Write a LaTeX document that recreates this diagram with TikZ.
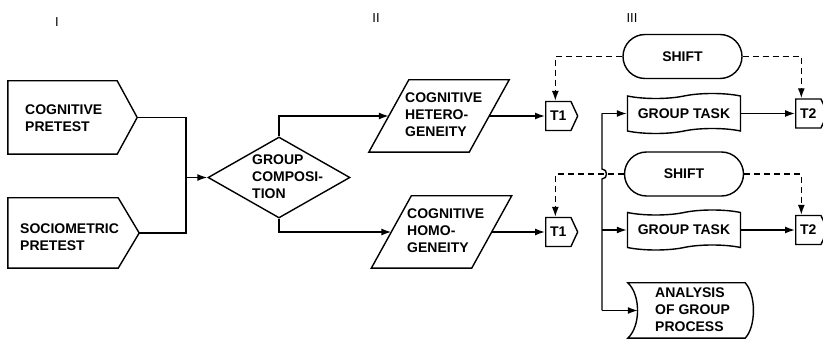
\documentclass[tikz,border=0pt]{standalone}
\usepackage{fontspec}
\setmainfont{Liberation Sans}
\usetikzlibrary{shapes.geometric,shapes.symbols,shapes.misc,arrows.meta,calc}
\begin{document}
\begin{tikzpicture}[x=1pt,y=-1pt,
  fnt/.style={font=\fontsize{14}{17}\selectfont\bfseries},
  txt/.style={fnt, align=left, inner sep=0pt},
  ln/.style={line width=1.4pt},
  arr/.style={ln,-{Latex[length=10pt,width=7pt]}},
  dsh/.style={arr,dash pattern=on 6pt off 4pt},
  box/.style={draw, ln, inner sep=0pt},
  body/.style={inner sep=0pt},
  tag/.style={box, fnt, signal, signal to=east, signal pointer angle=130, minimum width=32, minimum height=29},
  shiftbox/.style={box, fnt, rounded rectangle, minimum width=119, minimum height=44},
  taskbox/.style={box, fnt, tape, minimum width=113, minimum height=40},
  numr/.style={font=\fontsize{13}{15}\selectfont, inner sep=0pt}
]
\fill[white] (0,0) rectangle (823,339);
\useasboundingbox (0,0) rectangle (823,339);

% column numerals
\node[numr] (n1) at (57,22) {I};
\node[numr] (n2) at (376,18) {II};
\node[numr] (n3) at (632,18) {III};

% column I
\node[body, minimum width=109, minimum height=73] (cp) at (62.5,117.5) {};
\coordinate (cpTip) at ($(cp.east)+(20,0)$);
\draw[ln] (cp.north west) -- (cp.north east) -- (cpTip) -- (cp.south east) -- (cp.south west) -- cycle;
\node[txt, anchor=west] (cpt) at (25,118.5) {COGNITIVE\\PRETEST};

\node[body, minimum width=110, minimum height=70] (sp) at (63,233) {};
\coordinate (spTip) at ($(sp.east)+(21,0)$);
\draw[ln] (sp.north west) -- (sp.north east) -- (spTip) -- (sp.south east) -- (sp.south west) -- cycle;
\node[txt, anchor=west] (spt) at (20,237) {SOCIOMETRIC\\PRETEST};

% column II
\node[box, diamond, minimum width=142, minimum height=81] (gc) at (279,177.5) {};
\node[txt, anchor=west] (gct) at (252,177) {GROUP\\COMPOSI-\\TION};

\node[body, minimum width=100, minimum height=72] (het) at (439,116) {};
\draw[ln] ($(het.north west)+(20,0)$) -- ($(het.north east)+(20,0)$)
  -- ($(het.south east)+(-20,0)$) -- ($(het.south west)+(-20,0)$) -- cycle;
\node[txt, anchor=west] (hett) at (405,115) {COGNITIVE\\HETERO-\\GENEITY};
\node[body, minimum width=100, minimum height=72] (hom) at (441.5,232) {};
\draw[ln] ($(hom.north west)+(20,0)$) -- ($(hom.north east)+(20,0)$)
  -- ($(hom.south east)+(-20,0)$) -- ($(hom.south west)+(-20,0)$) -- cycle;
\node[txt, anchor=west] (homt) at (407,231) {COGNITIVE\\HOMO-\\GENEITY};

\node[tag, anchor=west] (t1a) at (545,116) {T1};
\node[tag, anchor=west] (t1b) at (545,232) {T1};

% column III
\node[shiftbox] (sh1) at (682.5,56.5) {SHIFT};
\node[shiftbox] (sh2) at (684,174) {SHIFT};
\node[taskbox] (gt1) at (684,113.5) {GROUP TASK};
\node[taskbox] (gt2) at (684,230) {GROUP TASK};
\node[tag, anchor=west] (t2a) at (795,113.5) {T2};
\node[tag, anchor=west] (t2b) at (795,230) {T2};

\node[body, minimum width=117, minimum height=55] (ana) at (686.5,310.5) {};
\node[txt, anchor=west] (anat) at (655,310) {ANALYSIS\\OF GROUP\\PROCESS};
\draw[ln] (ana.north west) -- (ana.north east)
  .. controls ($(ana.north east)+(11,12)$) and ($(ana.south east)+(11,-12)$) .. (ana.south east)
  -- (ana.south west)
  .. controls ($(ana.south west)+(13,-12)$) and ($(ana.north west)+(13,12)$) .. cycle;
\coordinate (anaL) at ($(ana.west)+(10,0)$);

% connectors
\coordinate (j1) at (186,177.5);
\draw[ln] (cpTip) -| (j1) |- (spTip);
\draw[arr] (j1) -- (gc.west);
\draw[arr] (gc.north) |- (het.west);
\draw[arr] (gc.south) |- (hom.west);
\draw[arr] (het.east) -- (het.east -| t1a.west);
\draw[arr] (hom.east) -- (hom.east -| t1b.west);

\draw[dsh] (sh1.west) -| ([xshift=-3pt]t1a.north);
\draw[dsh] (sh1.east) -| ([xshift=-7pt]t2a.north);
\draw[dsh] (sh2.west) -| ([xshift=-3pt]t1b.north);
\draw[dsh] (sh2.east) -| ([xshift=-7pt]t2b.north);

\coordinate (bx) at (602,0);
\draw[ln] (gt1.west -| bx) -- ($(sh2.west -| bx)+(0,-5)$)
  .. controls +(6,0) and +(6,0) .. ($(sh2.west -| bx)+(0,5)$) -- (anaL -| bx);
\draw[arr] (gt1.west -| bx) -- (gt1.west);
\draw[arr] (gt2.west -| bx) -- (gt2.west);
\draw[arr] (anaL -| bx) -- (anaL);
\draw[arr] (gt1.east) -- (t2a.west);
\draw[arr] (gt2.east) -- (t2b.west);
\end{tikzpicture}
\end{document}
